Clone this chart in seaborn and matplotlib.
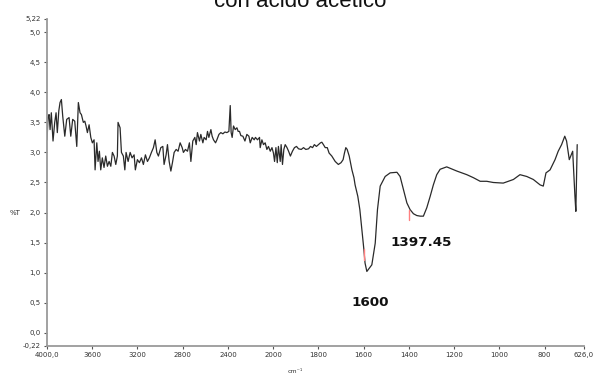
import numpy as np
import pandas as pd
import matplotlib
matplotlib.use("Agg")
import matplotlib.pyplot as plt
import seaborn as sns

# FTIR spectrum: wavenumber (cm-1) and transmittance (%T)
wavenumber = [
    4000, 3991, 3982, 3973, 3962, 3947, 3932, 3920, 3909, 3896, 3885, 3873,
    3861, 3843, 3826, 3805, 3790, 3773, 3755, 3737, 3723, 3708, 3696, 3679,
    3666, 3655, 3643, 3628, 3613, 3599, 3584, 3575, 3560, 3549, 3537, 3525,
    3511, 3496, 3481, 3466, 3451, 3436, 3422, 3407, 3392, 3378, 3372, 3354,
    3342, 3325, 3312, 3301, 3283, 3265, 3248, 3230, 3219, 3201, 3183, 3165,
    3148, 3130, 3112, 3095, 3077, 3059, 3044, 3029, 3015, 2994, 2976, 2965,
    2947, 2935, 2920, 2905, 2891, 2876, 2858, 2841, 2823, 2805, 2794, 2776,
    2758, 2741, 2728, 2711, 2693, 2681, 2670, 2652, 2640, 2622, 2611, 2593,
    2581, 2569, 2551, 2540, 2528, 2510, 2498, 2480, 2463, 2445, 2427, 2410,
    2392, 2380, 2372, 2363, 2351, 2336, 2321, 2310, 2298, 2286, 2268, 2250,
    2233, 2215, 2203, 2186, 2168, 2157, 2139, 2121, 2115, 2100, 2086, 2071,
    2056, 2042, 2026, 2011, 1999, 1994, 1988, 1982, 1977, 1969, 1965, 1959,
    1953, 1947, 1939, 1932, 1924, 1915, 1906, 1897, 1888, 1876, 1866, 1856,
    1844, 1835, 1826, 1818, 1809, 1800, 1791, 1785, 1778, 1770, 1761, 1753,
    1741, 1726, 1712, 1700, 1691, 1685, 1679, 1673, 1664, 1652, 1643, 1638,
    1626, 1617, 1608, 1599, 1594, 1586, 1580, 1564, 1549, 1539, 1527, 1505,
    1483, 1453, 1439, 1424, 1409, 1395, 1380, 1365, 1350, 1336, 1321, 1306,
    1292, 1277, 1262, 1233, 1188, 1144, 1115, 1085, 1056, 1027, 983, 938,
    909, 879, 850, 820, 806, 794, 776, 754, 740, 725, 711, 703,
    691, 676, 666, 662, 656,
]
transmittance = [
    3.21, 3.58, 3.63, 3.38, 3.66, 3.19, 3.50, 3.66, 3.33, 3.69, 3.83, 3.88,
    3.60, 3.27, 3.55, 3.58, 3.27, 3.55, 3.52, 3.10, 3.83, 3.66, 3.63, 3.50,
    3.52, 3.44, 3.33, 3.46, 3.25, 3.16, 3.21, 2.71, 3.16, 2.85, 3.02, 2.71,
    2.91, 2.75, 2.94, 2.77, 2.85, 2.77, 3.00, 2.94, 2.80, 2.94, 3.50, 3.41,
    3.00, 2.94, 2.71, 3.00, 2.85, 3.00, 2.91, 2.96, 2.71, 2.88, 2.83, 2.91,
    2.80, 2.96, 2.85, 2.91, 3.00, 3.08, 3.21, 3.00, 2.94, 3.08, 3.10, 2.80,
    2.96, 3.13, 2.85, 2.69, 2.83, 3.00, 3.05, 3.02, 3.16, 3.08, 3.00, 3.05,
    3.02, 3.16, 2.85, 3.19, 3.25, 3.13, 3.33, 3.19, 3.30, 3.16, 3.25, 3.21,
    3.35, 3.25, 3.38, 3.27, 3.21, 3.16, 3.21, 3.30, 3.33, 3.31, 3.34, 3.33,
    3.35, 3.78, 3.33, 3.25, 3.44, 3.38, 3.41, 3.35, 3.35, 3.28, 3.27, 3.19,
    3.30, 3.27, 3.16, 3.25, 3.21, 3.25, 3.21, 3.25, 3.08, 3.21, 3.13, 3.16,
    3.05, 3.10, 3.02, 3.08, 2.99, 2.85, 3.08, 2.83, 3.10, 2.85, 3.13, 2.80,
    3.05, 3.13, 3.08, 3.02, 2.94, 3.02, 3.08, 3.10, 3.06, 3.05, 3.08, 3.05,
    3.06, 3.10, 3.08, 3.13, 3.10, 3.13, 3.16, 3.17, 3.13, 3.08, 3.08, 2.99,
    2.94, 2.85, 2.80, 2.83, 2.88, 2.99, 3.08, 3.05, 2.94, 2.71, 2.58, 2.46,
    2.27, 2.05, 1.71, 1.38, 1.16, 1.02, 1.05, 1.13, 1.49, 2.05, 2.44, 2.60,
    2.66, 2.67, 2.60, 2.38, 2.16, 2.05, 1.98, 1.95, 1.94, 1.94, 2.08, 2.27,
    2.46, 2.63, 2.72, 2.76, 2.69, 2.63, 2.58, 2.52, 2.52, 2.50, 2.49, 2.55,
    2.63, 2.60, 2.55, 2.46, 2.44, 2.66, 2.71, 2.88, 3.02, 3.13, 3.27, 3.19,
    2.88, 3.02, 2.27, 2.02, 3.13,
]

# Peak annotations
peak_labels = ["1600", "1397.45"]
peak_positions = [1600, 1397.45]

# Axis ticks
x_ticks = [4000, 3600, 3200, 2800, 2400, 2000, 1800, 1600, 1400, 1200, 1000, 800, 626]
x_tick_labels = ["4000,0", "3600", "3200", "2800", "2400", "2000", "1800",
                 "1600", "1400", "1200", "1000", "800", "626,0"]
y_ticks = [-0.22, 0.0, 0.5, 1.0, 1.5, 2.0, 2.5, 3.0, 3.5, 4.0, 4.5, 5.0, 5.22]
y_tick_labels = ["-0,22", "0,0", "0,5", "1,0", "1,5", "2,0", "2,5", "3,0",
                 "3,5", "4,0", "4,5", "5,0", "5,22"]

title = "con acido acetico"

sns.set_theme(style="white")
plt.rcParams["font.family"] = ["DejaVu Sans"]

df = pd.DataFrame({"wavenumber": wavenumber, "T": transmittance})

fig = plt.figure(figsize=(5.93, 3.76), dpi=100)
ax = fig.add_axes([0.0793, 0.0798, 0.9055, 0.8697])


# Spectrometer-style axis: region below 2000 cm-1 is expanded twofold
def _fwd(x):
    x = np.asarray(x, dtype=float)
    return np.where(x >= 2000, x, 2.0 * x - 2000.0)


def _inv(p):
    p = np.asarray(p, dtype=float)
    return np.where(p >= 2000, p, (p + 2000.0) / 2.0)


ax.set_xscale("function", functions=(_fwd, _inv))

sns.lineplot(data=df, x="wavenumber", y="T", sort=False, estimator=None,
             color="#2a2a2a", linewidth=0.9, ax=ax)

ax.set_xlim(4000, 626)
ax.set_ylim(-0.22, 5.22)

ax.set_xticks(x_ticks)
ax.set_xticklabels(x_tick_labels)
ax.set_yticks(y_ticks)
ax.set_yticklabels(y_tick_labels)
ax.xaxis.set_minor_locator(matplotlib.ticker.NullLocator())
ax.tick_params(axis="both", which="major", labelsize=5, colors="#555555",
               length=2.5, width=0.8, direction="out", pad=2,
               bottom=True, left=True)
for lab in ax.get_xticklabels() + ax.get_yticklabels():
    lab.set_color("#333333")

# blue marker ticks at the zero line and at the spectral end point
ax.yaxis.get_major_ticks()[1].tick1line.set_color("#3050ff")
ax.xaxis.get_major_ticks()[-1].tick1line.set_color("#3050ff")

for side in ("top", "right"):
    ax.spines[side].set_visible(False)
for side in ("left", "bottom"):
    ax.spines[side].set_color("#9a9a9a")
    ax.spines[side].set_linewidth(1.3)

ax.set_xlabel("")
ax.set_ylabel("")
ax.grid(False)

# red peak markers and their labels (label text placed below each band)
wn_sorted = np.array(wavenumber[::-1], dtype=float)
t_sorted = np.array(transmittance[::-1], dtype=float)
label_xy = [(1571, 0.51), (1346, 1.50)]
for pos, lab, (tx, ty) in zip(peak_positions, peak_labels, label_xy):
    t_at = float(np.interp(pos, wn_sorted, t_sorted))
    ax.plot([pos, pos], [t_at - 0.02, t_at - 0.2], color="#ff8080", linewidth=1.0)
    ax.text(tx, ty, lab, ha="center", va="center",
            fontsize=9.7, fontweight="bold", color="#111111")

fig.text(300 / 593, 1 - 7 / 376, title, ha="center", va="baseline",
         fontsize=16, family=["Liberation Sans", "DejaVu Sans"], color="#111111")
fig.text(15 / 593, 1 - 213 / 376, "%T", ha="center", va="center",
         fontsize=5, color="#333333")
fig.text(295 / 593, 1 - 374 / 376, "cm\u207b\u00b9", ha="center", va="bottom",
         fontsize=4.5, color="#333333")

fig.savefig("out.png", dpi=100)
